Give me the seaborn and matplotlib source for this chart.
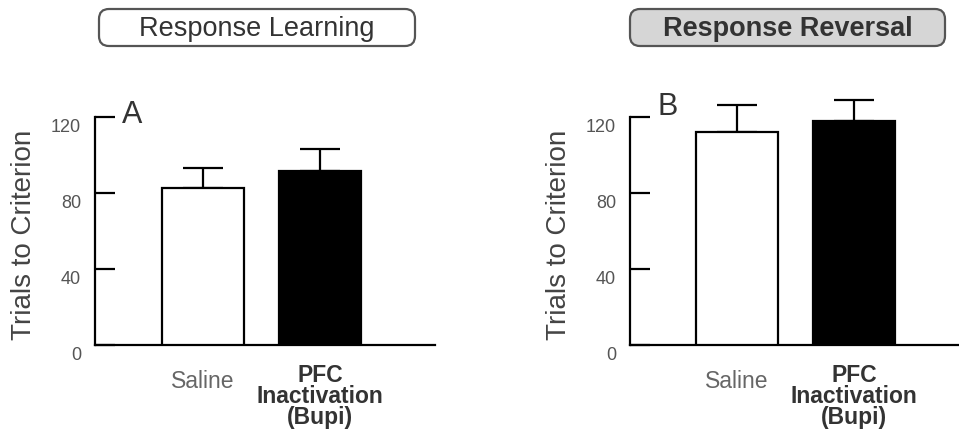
import matplotlib
matplotlib.use("Agg")
import matplotlib.pyplot as plt
import matplotlib.transforms as mtransforms
from matplotlib.patches import FancyBboxPatch
import seaborn as sns
import pandas as pd

sns.set_theme(style="white")
plt.rcParams["font.family"] = ["Liberation Sans", "DejaVu Sans"]

# --- data ---
groups = ["Saline", "PFC\nInactivation\n(Bupi)"]
bar_colors = ["white", "black"]
learning_mean = [82.5, 91.7]
learning_sem = [10.5, 11.3]
reversal_mean = [111.7, 118.0]
reversal_sem = [14.6, 10.9]
y_ticks = [0, 40, 80, 120]

W, H = 959, 432
fig = plt.figure(figsize=(W / 100, H / 100), dpi=100)

# pixel-space overlay for the title boxes
bg = fig.add_axes([0, 0, 1, 1])
bg.set_xlim(0, W)
bg.set_ylim(H, 0)
bg.axis("off")


def title_box(x0, x1, y0, y1, text, face, bold):
    box = FancyBboxPatch((x0, y0), x1 - x0, y1 - y0,
                         boxstyle="round,pad=0,rounding_size=10",
                         facecolor=face, edgecolor="#555555", linewidth=1.6)
    bg.add_patch(box)
    bg.text((x0 + x1) / 2, (y0 + y1) / 2 + 1, text, ha="center", va="center",
            fontsize=19.5, color="#333333",
            fontweight="bold" if bold else "normal")


title_box(99, 415, 9, 46, "Response Learning", "white", False)
title_box(630, 945, 9, 46, "Response Reversal", "#d6d6d6", True)

px_per_unit = 1.9025
ymax = 135
ax_h = ymax * px_per_unit / H
bottom = (H - 345) / H


def panel(left_px, right_px, xlim, means, sems, letter, letter_y):
    ax = fig.add_axes([left_px / W, bottom, (right_px - left_px) / W, ax_h])
    df = pd.DataFrame({"group": groups, "trials": means})
    sns.barplot(data=df, x="group", y="trials", hue="group",
                palette=bar_colors, edgecolor="black", linewidth=1.6,
                width=0.70, legend=False, ax=ax, zorder=3)
    ax.errorbar(range(len(groups)), means, yerr=[[0] * len(sems), sems],
                fmt="none", ecolor="black", elinewidth=1.6, capsize=14.5,
                capthick=1.6, zorder=2, clip_on=False)
    ax.set_xlim(*xlim)
    ax.set_ylim(0, ymax)
    for s in ["top", "right"]:
        ax.spines[s].set_visible(False)
    for s in ["left", "bottom"]:
        ax.spines[s].set_color("black")
        ax.spines[s].set_linewidth(1.6)
    ax.spines["left"].set_bounds(0, 120)

    ax.set_yticks(y_ticks)
    ax.set_yticklabels([str(t) for t in y_ticks])
    ax.tick_params(axis="y", direction="in", length=14.5, width=1.6,
                   color="black", labelsize=13, labelcolor="#555555", pad=10,
                   left=True)
    shift = mtransforms.ScaledTranslation(0, -6 / 72, fig.dpi_scale_trans)
    for lab in ax.get_yticklabels():
        lab.set_transform(lab.get_transform() + shift)

    ax.set_xticks(range(len(groups)))
    ax.set_xticklabels(groups)
    ax.tick_params(axis="x", length=0, pad=14, labelsize=16.5)
    xl = ax.get_xticklabels()
    xl[0].set_color("#666666")
    xl[0].set_transform(xl[0].get_transform()
                        + mtransforms.ScaledTranslation(0, -4 / 72, fig.dpi_scale_trans))
    xl[1].set_color("#333333")
    xl[1].set_fontweight("bold")
    xl[1].set_linespacing(0.88)

    ax.set_xlabel("")
    ax.set_ylabel("Trials to Criterion", fontsize=20, color="#444444")
    ax.yaxis.set_label_coords(-58 / (right_px - left_px), 0.43)

    blend = mtransforms.blended_transform_factory(ax.transAxes, ax.transData)
    ax.text(27 / (right_px - left_px), letter_y, letter, transform=blend,
            fontsize=22, color="#333333", ha="left", va="center")
    return ax


panel(95, 435, (-0.92, 1.98), learning_mean, learning_sem, "A", 121)
panel(630, 959, (-0.91, 1.895), reversal_mean, reversal_sem, "B", 125)

fig.savefig("out.png", dpi=100, facecolor="white")
